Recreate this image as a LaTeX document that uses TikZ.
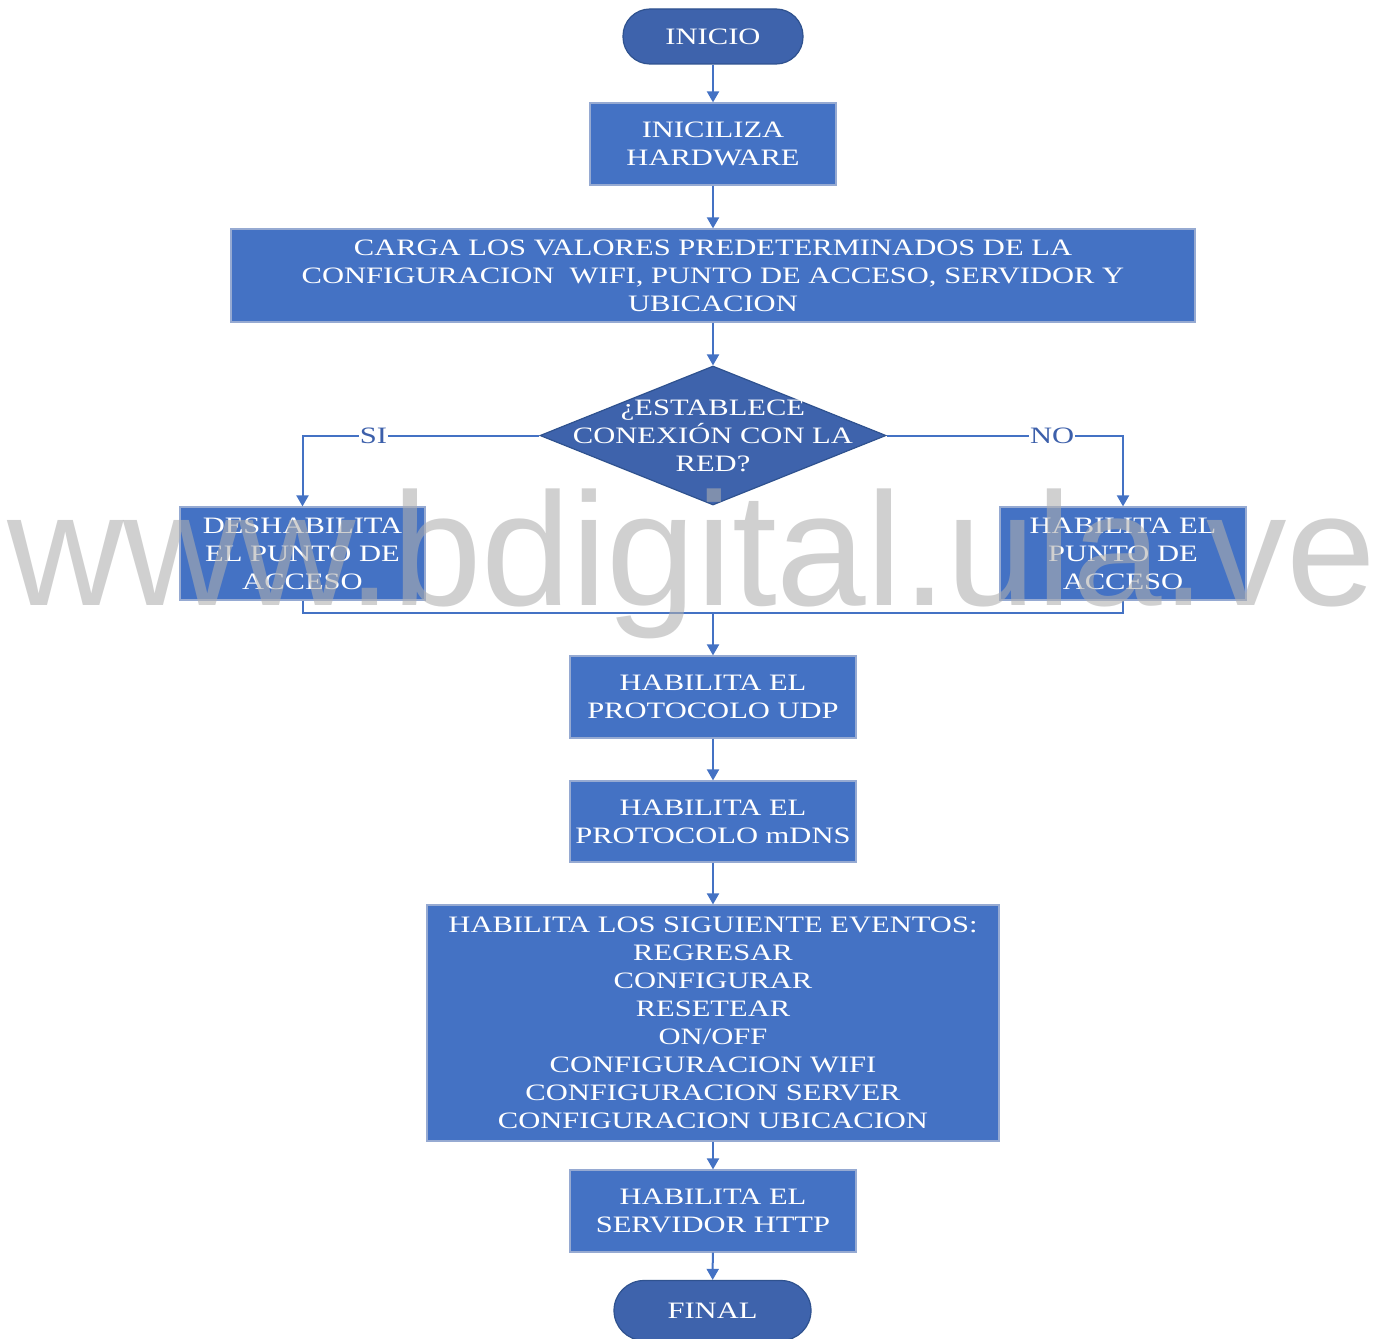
\documentclass[tikz,border=0pt]{standalone}
\usepackage{fontspec}
\setmainfont{Liberation Serif}[FakeStretch=1.30]
\newfontfamily\wmfont{Liberation Sans}
\usetikzlibrary{arrows.meta,shapes.geometric}
\definecolor{boxblue}{HTML}{4472C4}
\definecolor{boxedge}{RGB}{150,170,210}
\definecolor{darkblue}{RGB}{62,99,172}
\definecolor{darkedge}{RGB}{47,82,143}
\definecolor{lineblue}{HTML}{4472C4}
\definecolor{labblue}{RGB}{60,95,170}
\definecolor{wmgray}{RGB}{175,175,175}
\begin{document}
\begin{tikzpicture}[x=1pt,y=-1pt,
  txt/.style={text=white,align=center,font=\fontsize{23.5}{28}\selectfont,inner sep=0pt},
  procbox/.style={txt,rectangle,draw=boxedge,line width=1.2pt,fill=boxblue},
  term/.style={txt,rectangle,rounded corners=27pt,draw=darkedge,line width=1.2pt,fill=darkblue,minimum width=180pt,minimum height=55pt},
  conn/.style={draw=lineblue,line width=2pt},
  arr/.style={conn,-{Triangle[width=12pt,length=11pt]}},
  lab/.style={text=labblue,fill=white,inner sep=1pt,font=\fontsize{23.5}{28}\selectfont}
]
\useasboundingbox (0,0) rectangle (1383,1338);
\fill[white] (0,0) rectangle (1383,1338);

\node[term] (start) at (713,36.5) {INICIO};
\node[procbox,minimum width=246pt,minimum height=82pt] (hw) at (713,144) {INICILIZA\\HARDWARE};
\node[procbox,minimum width=964pt,minimum height=93pt] (carga) at (713,275.5) {CARGA LOS VALORES PREDETERMINADOS DE LA\\CONFIGURACION\ \ WIFI, PUNTO DE ACCESO, SERVIDOR Y\\UBICACION};
\node[diamond,draw=darkedge,line width=1.2pt,fill=darkblue,minimum width=346pt,minimum height=139pt,inner sep=0pt] (dec) at (713,435.5) {};
\node[txt] (dectxt) at (dec.center) {¿ESTABLECE\\CONEXIÓN CON LA\\RED?};
\node[procbox,minimum width=245pt,minimum height=93pt] (desh) at (302.5,553.5) {DESHABILITA\\EL PUNTO DE\\ACCESO};
\node[procbox,minimum width=246pt,minimum height=93pt] (hab) at (1123,553.5) {HABILITA EL\\PUNTO DE\\ACCESO};
\coordinate (m) at (713,613);
\node[procbox,minimum width=286pt,minimum height=82pt] (udp) at (713,697) {HABILITA EL\\PROTOCOLO UDP};
\node[procbox,minimum width=286pt,minimum height=81pt] (mdns) at (713,821.5) {HABILITA EL\\PROTOCOLO mDNS};
\node[procbox,minimum width=572pt,minimum height=236pt] (ev) at (713,1023) {HABILITA LOS SIGUIENTE EVENTOS:\\REGRESAR\\CONFIGURAR\\RESETEAR\\ON/OFF\\CONFIGURACION WIFI\\CONFIGURACION SERVER\\CONFIGURACION UBICACION};
\node[procbox,minimum width=286pt,minimum height=82pt] (http) at (713,1211) {HABILITA EL\\SERVIDOR HTTP};
\node[term,minimum width=197pt,minimum height=60pt,rounded corners=30pt] (fin) at (712.5,1310.5) {FINAL};

\draw[arr] (start) -- (hw);
\draw[arr] (hw) -- (carga);
\draw[arr] (carga) -- (dec);
\draw[arr] (dec.west) -| node[lab,pos=0.35] (si) {SI} (desh.north);
\draw[arr] (dec.east) -| node[lab,pos=0.35] (no) {NO} (hab.north);
\draw[conn] (desh.south) |- (m) -| (hab.south);
\draw[arr] (m) -- (udp);
\draw[arr] (udp) -- (mdns);
\draw[arr] (mdns) -- (ev);
\draw[arr] (ev) -- (http);
\draw[arr] (http) -- (fin);

\node[anchor=base,text=wmgray,text opacity=0.58,inner sep=0pt,font=\wmfont\fontsize{161}{161}\selectfont] (wm) at (692,605) {www.bdigital.ula.ve};
\end{tikzpicture}
\end{document}
